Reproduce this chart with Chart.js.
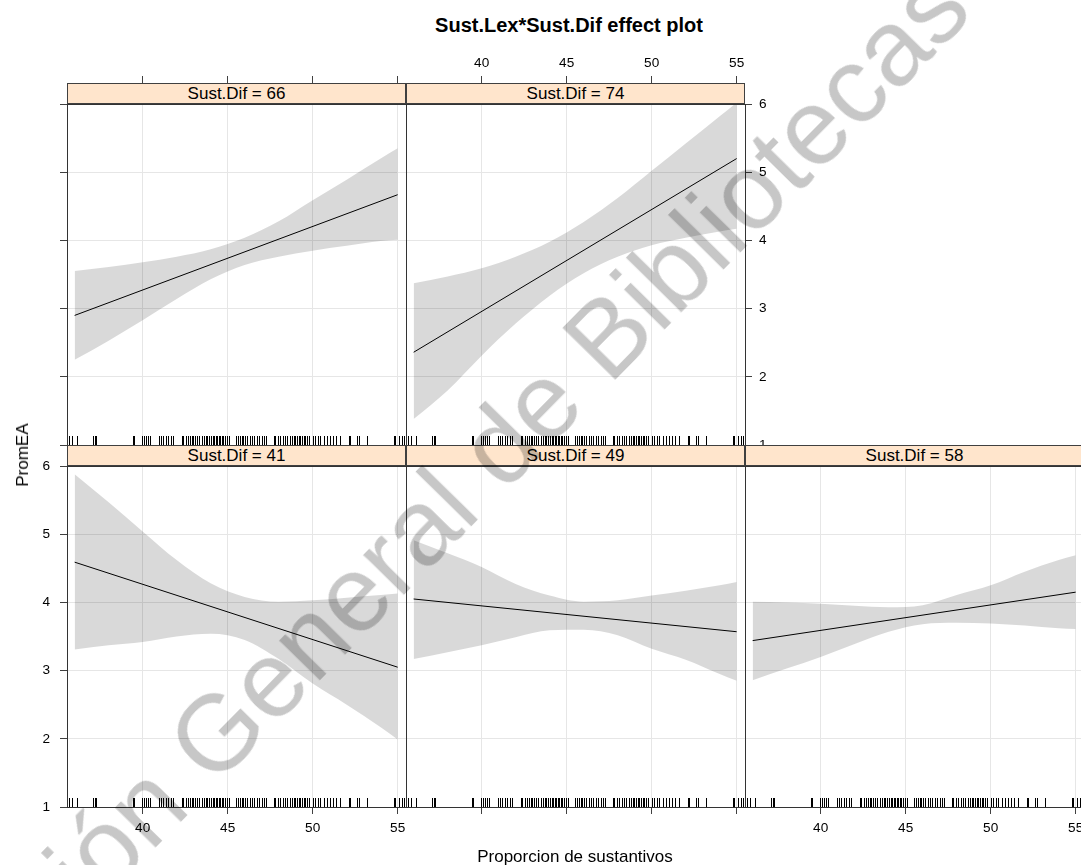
<!DOCTYPE html>
<html>
<head>
<meta charset="utf-8">
<title>Sust.Lex*Sust.Dif effect plot</title>
<script src="https://cdn.jsdelivr.net/npm/chart.js@4.4.1/dist/chart.umd.min.js"></script>
<style>
    body { margin: 0; background: #fff; }
    #page {
        position: relative;
        width: 1081px;
        height: 865px;
        overflow: hidden;
        font-family: "Liberation Sans", Arial, Helvetica, sans-serif;
        color: #000;
    }
    canvas.panel { position: absolute; z-index: 1; }
    .strip {
        position: absolute;
        z-index: 2;
        box-sizing: border-box;
        height: 21px;
        background: #ffe5cc;
        border: 1px solid #404040;
        font-size: 17px;
        line-height: 19px;
        text-align: center;
        white-space: nowrap;
    }
    .label {
        position: absolute;
        z-index: 2;
        white-space: nowrap;
        transform: translate(-50%, -50%);
    }
    #mainTitle { left: 569px; top: 25px; font-size: 20px; font-weight: bold; }
    #xTitle { left: 575px; top: 857px; font-size: 17px; }
    #yTitle { left: 23px; top: 455px; font-size: 17px; transform: translate(-50%, -50%) rotate(-90deg); }
    #watermark { position: absolute; left: 0; top: 0; z-index: 3; pointer-events: none; }
</style>
</head>
<body>
<div id="page">
    <div id="mainTitle" class="label">Sust.Lex*Sust.Dif effect plot</div>
    <div id="xTitle" class="label">Proporcion de sustantivos</div>
    <div id="yTitle" class="label">PromEA</div>
    <svg id="watermark" width="1081" height="865">
        <text x="-123" y="1131" transform="rotate(-45.5 -123 1131)"
              font-family="Liberation Sans, Arial, sans-serif" font-size="108"
              fill="#000" fill-opacity="0.22">Dirección General de Bibliotecas</text>
    </svg>
</div>
<script>
// Values
const xTicks = [40, 45, 50, 55];
const yTicks = [1, 2, 3, 4, 5, 6];
const bandX = [36, 38, 40, 42, 44, 46, 48, 50, 52, 54, 55];
const fitX = [36, 55];

// Sust.Dif = 66
const fit66 = [2.90, 4.67];
const upper66 = [3.55, 3.61, 3.68, 3.76, 3.87, 4.04, 4.28, 4.59, 4.89, 5.20, 5.35];
const lower66 = [2.25, 2.53, 2.83, 3.14, 3.43, 3.64, 3.76, 3.85, 3.92, 3.99, 4.01];

// Sust.Dif = 74
const fit74 = [2.36, 5.20];
const upper74 = [3.37, 3.47, 3.59, 3.76, 3.98, 4.27, 4.62, 5.02, 5.42, 5.82, 6.02];
const lower74 = [1.38, 1.80, 2.31, 2.78, 3.19, 3.52, 3.76, 3.93, 4.04, 4.13, 4.17];

// Sust.Dif = 41
const fit41 = [4.59, 3.05];
const upper41 = [5.88, 5.47, 5.04, 4.62, 4.28, 4.08, 4.01, 4.03, 4.07, 4.11, 4.13];
const lower41 = [3.31, 3.37, 3.42, 3.50, 3.54, 3.45, 3.17, 2.81, 2.50, 2.17, 1.99];

// Sust.Dif = 49
const fit49 = [4.05, 3.57];
const upper49 = [4.91, 4.72, 4.52, 4.27, 4.10, 4.01, 4.03, 4.10, 4.17, 4.25, 4.30];
const lower49 = [3.17, 3.27, 3.37, 3.49, 3.59, 3.60, 3.52, 3.32, 3.16, 2.95, 2.85];

// Sust.Dif = 58
const fit58 = [3.44, 4.15];
const upper58 = [4.01, 4.00, 3.98, 3.95, 3.93, 3.96, 4.11, 4.25, 4.45, 4.62, 4.69];
const lower58 = [2.86, 3.03, 3.20, 3.39, 3.57, 3.68, 3.70, 3.69, 3.66, 3.62, 3.61];

// Rug of observed Sust.Lex values (same in every panel)
const rugX = [
    35.68, 35.82, 36.11, 37.09, 37.17, 37.25, 39.41, 39.49, 39.98, 40.08,
    40.20, 40.33, 40.43, 40.94, 41.06, 41.22, 41.38, 41.51, 41.65, 41.77,
    42.30, 42.40, 42.55, 42.69, 42.79, 42.89, 42.99, 43.08, 43.22, 43.34,
    43.48, 43.58, 43.73, 43.81, 43.93, 44.01, 44.13, 44.20, 44.32, 44.40,
    44.48, 44.56, 44.64, 44.75, 44.85, 44.95, 45.05, 45.50, 45.60, 45.70,
    45.83, 45.93, 46.03, 46.13, 46.29, 46.42, 46.56, 46.72, 46.86, 47.01,
    47.15, 47.27, 47.70, 47.80, 47.94, 48.09, 48.25, 48.39, 48.49, 48.64,
    48.78, 48.88, 48.98, 49.08, 49.17, 49.27, 49.37, 49.47, 49.57, 49.67,
    49.76, 50.02, 50.16, 50.29, 50.45, 50.65, 50.84, 51.00, 51.20, 51.39,
    51.59, 52.12, 52.22, 52.61, 52.71, 53.20, 54.77, 54.87, 55.07, 55.27,
    55.40
];

// Layout (pixels)
const M = 50;          // room around each panel for its axes
const PANEL_W = 339;
const PANEL_H = 341;
const STRIP_H = 21;
const X_MIN = 35.55;
const X_MAX = 55.49;

const rugPlugin = {
    id: 'rug',
    afterDatasetsDraw(chart) {
        const { ctx, chartArea, scales } = chart;
        ctx.save();
        ctx.strokeStyle = '#000';
        ctx.lineWidth = 1;
        ctx.beginPath();
        rugX.forEach(v => {
            const px = Math.round(scales.x.getPixelForValue(v)) + 0.5;
            if (px < chartArea.left || px > chartArea.right) return;
            ctx.moveTo(px, chartArea.bottom);
            ctx.lineTo(px, chartArea.bottom - 9);
        });
        ctx.stroke();
        ctx.restore();
    }
};

class EffectPlot {
    static charts = {};

    static init() {
        if (typeof Chart === 'undefined') {
            console.warn('Chart.js not loaded');
            return;
        }
        // lattice layout: top row 66, 74; bottom row 41, 49, 58
        this.addPanel('66', fit66, upper66, lower66, 67, 104,
            { top: 'ticks', left: 'ticks', bottom: 'none', right: 'none' });
        this.addPanel('74', fit74, upper74, lower74, 406, 104,
            { top: 'labels', left: 'none', bottom: 'none', right: 'labels' });
        this.addPanel('41', fit41, upper41, lower41, 67, 466,
            { top: 'none', left: 'labels', bottom: 'labels', right: 'none' });
        this.addPanel('49', fit49, upper49, lower49, 406, 466,
            { top: 'none', left: 'none', bottom: 'ticks', right: 'none' });
        this.addPanel('58', fit58, upper58, lower58, 745, 466,
            { top: 'none', left: 'none', bottom: 'labels', right: 'none' });
    }

    static makeAxis(side, mode, onArea) {
        const horizontal = side === 'top' || side === 'bottom';
        const paddings = { top: 5, bottom: 6, left: 10, right: 7 };
        return {
            type: 'linear',
            position: side,
            min: horizontal ? X_MIN : yTicks[0],
            max: horizontal ? X_MAX : yTicks[yTicks.length - 1],
            afterBuildTicks: s => {
                s.ticks = (horizontal ? xTicks : yTicks).map(v => ({ value: v }));
            },
            afterFit: s => {
                if (horizontal) s.height = M; else s.width = M;
            },
            grid: {
                display: true,
                drawOnChartArea: onArea,
                drawTicks: mode !== 'none',
                tickLength: side === 'top' ? STRIP_H + 7 : 7,
                color: '#e6e6e6',
                tickColor: '#404040',
                lineWidth: 1,
                tickWidth: 1
            },
            border: { display: true, color: '#333', width: 1, z: 1 },
            ticks: {
                display: mode === 'labels',
                padding: paddings[side],
                color: '#000',
                maxRotation: 0,
                autoSkip: false,
                font: { family: '"Liberation Sans", Arial, sans-serif', size: 13.6 }
            }
        };
    }

    static addPanel(level, fit, upper, lower, left, top, axes) {
        const page = document.getElementById('page');

        const canvas = document.createElement('canvas');
        canvas.className = 'panel';
        canvas.width = PANEL_W + 2 * M;
        canvas.height = PANEL_H + 2 * M;
        canvas.style.left = (left - M) + 'px';
        canvas.style.top = (top - M) + 'px';
        page.appendChild(canvas);

        const strip = document.createElement('div');
        strip.className = 'strip';
        strip.style.left = left + 'px';
        strip.style.top = (top - STRIP_H) + 'px';
        strip.style.width = PANEL_W + 'px';
        strip.textContent = 'Sust.Dif = ' + level;
        page.appendChild(strip);

        const band = 'rgba(0, 0, 0, 0.15)';
        this.charts[level] = new Chart(canvas.getContext('2d'), {
            type: 'line',
            data: {
                datasets: [
                    {
                        label: 'upper',
                        data: bandX.map((x, i) => ({ x, y: upper[i] })),
                        borderWidth: 0,
                        pointRadius: 0,
                        backgroundColor: band,
                        fill: '+1',
                        cubicInterpolationMode: 'monotone'
                    },
                    {
                        label: 'lower',
                        data: bandX.map((x, i) => ({ x, y: lower[i] })),
                        borderWidth: 0,
                        pointRadius: 0,
                        fill: false,
                        cubicInterpolationMode: 'monotone'
                    },
                    {
                        label: 'PromEA',
                        data: fitX.map((x, i) => ({ x, y: fit[i] })),
                        borderColor: '#000',
                        borderWidth: 1,
                        pointRadius: 0,
                        fill: false
                    }
                ]
            },
            options: {
                responsive: false,
                maintainAspectRatio: false,
                animation: false,
                layout: { padding: 0 },
                plugins: {
                    legend: { display: false },
                    tooltip: { enabled: false },
                    title: { display: false }
                },
                scales: {
                    x: this.makeAxis('bottom', axes.bottom, true),
                    xTop: this.makeAxis('top', axes.top, false),
                    y: this.makeAxis('left', axes.left, true),
                    yRight: this.makeAxis('right', axes.right, false)
                }
            },
            plugins: [rugPlugin]
        });
    }
}

EffectPlot.init();
</script>
</body>
</html>
